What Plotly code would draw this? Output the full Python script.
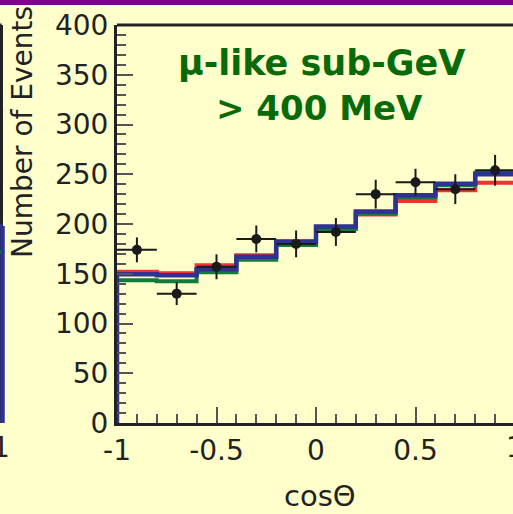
import plotly.graph_objects as go

# binning in cos(theta)
bin_edges = [-1.0, -0.8, -0.6, -0.4, -0.2, 0.0, 0.2, 0.4, 0.6, 0.8, 1.0]
bin_centers = [-0.9, -0.7, -0.5, -0.3, -0.1, 0.1, 0.3, 0.5, 0.7, 0.9]

# data points
data_events = [174, 130, 157, 185, 180, 192, 230, 242, 235, 254]
data_err = [12.5, 11.5, 12.5, 13.5, 13.5, 14, 14.5, 13.5, 15, 15.5]

# expectations (histograms)
mc_red = [152, 150.5, 158.5, 168.5, 183, 197, 209.5, 223, 234, 241.5]
mc_green = [143.5, 142.5, 151.5, 164, 179, 195, 210.5, 227, 239, 251.5]
mc_blue = [149.5, 148.5, 154.5, 167, 182, 197.5, 212.5, 229, 240.5, 250]

# axis ticks
x_tickvals = [-1, -0.5, 0, 0.5]
x_ticktext = ['-1', '-0.5', '0', '0.5']
y_tickvals = [0, 50, 100, 150, 200, 250, 300, 350, 400]

# neighbouring panel remnant (left edge)
left_panel_blue = 198
left_panel_green = 172

W, H = 513, 514
L, R, T, B = 117, 0, 25, 91
PW, PH = W - L - R, H - T - B
BG = '#FFFFCC'
TXT = '#222222'
FONT = 'DejaVu Sans'
TITLE_GREEN = '#086A08'
PX_PER_UNIT = 199.0


def steps(vals):
    # histogram outline starting from zero at the first edge
    xs = [bin_edges[0]] + list(bin_edges)
    ys = [0] + list(vals) + [vals[-1]]
    return xs, ys


fig = go.Figure()

for vals, col, w in [(mc_red, '#EE3333', 4), (mc_green, '#127A3A', 4),
                     (mc_blue, '#2E3392', 4.5)]:
    xs, ys = steps(vals)
    fig.add_trace(go.Scatter(x=xs, y=ys, mode='lines', line_shape='hv',
                             line=dict(color=col, width=w),
                             showlegend=False, cliponaxis=False))

fig.add_trace(go.Scatter(
    x=bin_centers, y=data_events, mode='markers',
    marker=dict(color='#1A1A1A', size=10),
    error_x=dict(type='constant', value=0.1, color='#1A1A1A', thickness=2, width=0),
    error_y=dict(type='data', array=data_err, color='#1A1A1A', thickness=2, width=0),
    showlegend=False, cliponaxis=False))

x_end = -1 + PW / PX_PER_UNIT

fig.update_xaxes(
    range=[-1, x_end], showline=True, linecolor=TXT, linewidth=3,
    showgrid=False, zeroline=False,
    tickmode='array', tickvals=x_tickvals, ticktext=x_ticktext,
    ticks='inside', ticklen=16, tickwidth=1.5, tickcolor='#555555',
    minor=dict(dtick=0.1, tick0=-1, ticks='inside', ticklen=9,
               tickwidth=1.5, tickcolor='#555555', showgrid=False),
    tickfont=dict(family=FONT, size=28, color=TXT))

fig.update_yaxes(
    range=[0, 400], showline=True, linecolor=TXT, linewidth=3,
    showgrid=False, zeroline=False,
    tickmode='array', tickvals=y_tickvals,
    ticks='inside', ticklen=16, tickwidth=1.5, tickcolor='#555555',
    minor=dict(dtick=10, tick0=0, ticks='inside', ticklen=9,
               tickwidth=1.5, tickcolor='#555555', showgrid=False),
    tickfont=dict(family=FONT, size=28, color=TXT))

px = lambda p: (p - L) / PW          # pixel -> paper x
py = lambda p: (H - B - p) / PH      # pixel -> paper y

shapes = [
    # purple band at the very top
    dict(type='rect', xref='paper', yref='paper', x0=px(-2), x1=1.01,
         y0=py(5), y1=py(-2), fillcolor='#7E0090', line_width=0, layer='above'),
    # top frame line
    dict(type='line', xref='paper', yref='paper', x0=0, x1=1.01, y0=1, y1=1,
         line=dict(color=TXT, width=3)),
    # neighbouring panel frame and histogram edge
    dict(type='line', xref='paper', yref='paper', x0=px(-5), x1=px(1.5),
         y0=1, y1=1, line=dict(color=TXT, width=3)),
    dict(type='line', xref='paper', yref='paper', x0=px(1.5), x1=px(1.5),
         y0=0, y1=1, line=dict(color=TXT, width=3)),
    dict(type='line', xref='paper', yref='y', x0=px(2.5), x1=px(2.5),
         y0=0, y1=left_panel_blue, line=dict(color='#2E3392', width=4.5)),
    dict(type='line', xref='paper', yref='y', x0=px(-5), x1=px(2.5),
         y0=left_panel_blue, y1=left_panel_blue, line=dict(color='#2E3392', width=4.5)),
    dict(type='line', xref='paper', yref='y', x0=px(-5), x1=px(1),
         y0=left_panel_green, y1=left_panel_green, line=dict(color='#127A3A', width=3)),
]

mid = dict(xanchor='center', yanchor='middle', showarrow=False)
annotations = [
    dict(text='\u03bc-like sub-GeV', xref='x', yref='paper', x=0.03, y=py(63),
         font=dict(family=FONT, size=35, color=TITLE_GREEN, weight='bold'), **mid),
    dict(text='> 400 MeV', xref='x', yref='paper', x=0.02, y=py(108),
         font=dict(family=FONT, size=34, color=TITLE_GREEN, weight='bold'), **mid),
    dict(text='Number of Events', xref='paper', yref='paper', x=px(22), y=py(132),
         textangle=-90, font=dict(family=FONT, size=28, color=TXT), **mid),
    dict(text='cos\u0398', xref='x', yref='paper', x=0.02, y=py(496),
         font=dict(family=FONT, size=29, color=TXT), **mid),
    # tick label "1" cut at the right edge, and the neighbour's last label
    dict(text='1', xref='paper', yref='paper', x=px(L + 2 * PX_PER_UNIT), y=py(447),
         font=dict(family=FONT, size=28, color=TXT), **mid),
    dict(text='1', xref='paper', yref='paper', x=px(1), y=py(447),
         font=dict(family=FONT, size=28, color=TXT), **mid),
]

fig.update_layout(
    width=W, height=H,
    margin=dict(l=L, r=R, t=T, b=B, pad=0),
    paper_bgcolor=BG, plot_bgcolor=BG,
    shapes=shapes, annotations=annotations,
    showlegend=False)

fig.write_html("out.html",
               config={'displayModeBar': False},
               post_script="document.body.style.margin='0';"
                           "document.body.style.background='#FFFFCC';"
                           "document.body.style.overflow='hidden';")
